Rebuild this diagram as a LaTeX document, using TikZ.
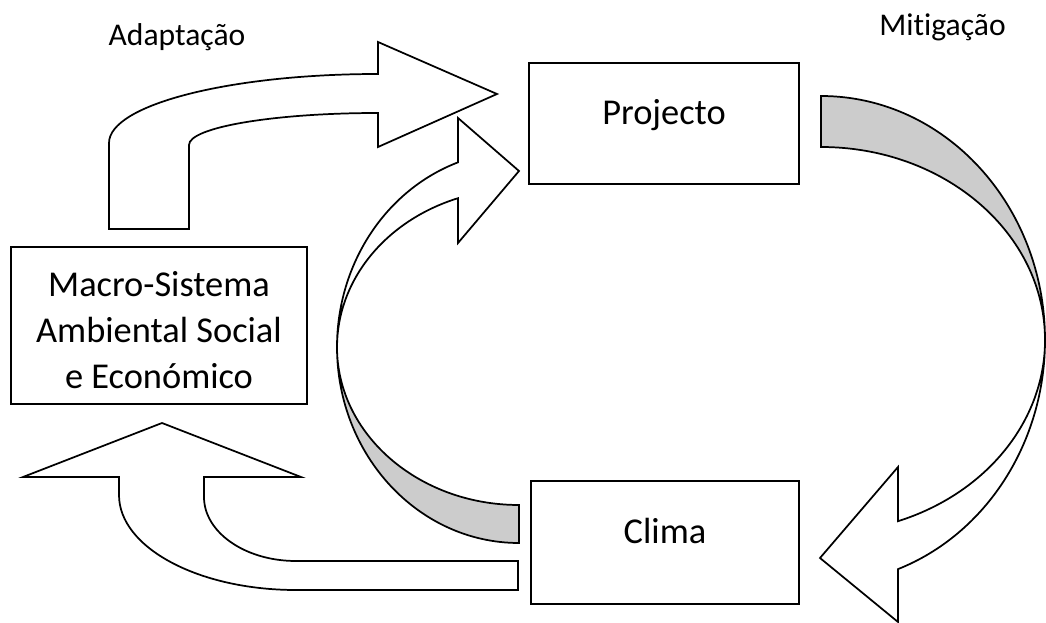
\documentclass[tikz,border=0pt]{standalone}
\usepackage{fontspec}
\setmainfont{Carlito}[Ligatures={NoCommon}]
\begin{document}
\begin{tikzpicture}[x=0.75pt,y=-0.75pt,line join=miter,
  shp/.style={draw=black,line width=1.3pt,fill=white},
  back/.style={draw=black,line width=1.3pt,fill=gray!40},
  box/.style={draw=black,line width=1.3pt,fill=white,rectangle,inner sep=0pt},
  big/.style={font=\fontsize{27.3}{34.4}\selectfont,inner sep=0pt},
  small/.style={font=\fontsize{23.7}{28.9}\selectfont,inner sep=0pt}]
\useasboundingbox (0,0) rectangle (1046,623);

% boxes
\node[box,minimum width=202.5pt,minimum height=90.75pt] (proj) at (664,123.5) {};
\node[box,minimum width=201pt,minimum height=92.25pt] (clima) at (665,542.5) {};
\node[box,minimum width=222pt,minimum height=117.75pt] (macro) at (159,325.5) {};

% texts
\node[big,anchor=base] (projt) at (664,125) {Projecto};
\node[big,anchor=base] (climat) at (665,543) {Clima};
\node[big,align=center] (macrot) at (159,330) {Macro-Sistema\\Ambiental Social\\e Económico};
\node[small,anchor=base] (adapt) at (177,46) {Adaptação};
\node[small,anchor=base] (mitig) at (942.5,36) {Mitigação};

% Adaptacao bent arrow (Macro -> Projecto)
\filldraw[shp] (109,229) -- (109,143)
  arc[start angle=180,end angle=270,x radius=269,y radius=69]
  -- (378,42) -- (497,94) -- (378,147) -- (378,113)
  arc[start angle=270,end angle=180,x radius=189,y radius=32]
  -- (189,229) -- cycle;

% left circular arrow (Clima -> Projecto)
\filldraw[back] (519,543)
  arc[start angle=90,end angle=180,x radius=182,y radius=196]
  arc[start angle=180,end angle=90,x radius=182,y radius=158] -- cycle;
\filldraw[shp] (337,347)
  arc[start angle=180,end angle=250.4,x radius=182,y radius=196]
  -- (458,118) -- (519,171) -- (458,243) -- (458,198.2)
  arc[start angle=250.4,end angle=180,x radius=182,y radius=158] -- cycle;

% right circular arrow (Projecto -> Clima)
\filldraw[back] (821,96)
  arc[start angle=270,end angle=360,x radius=224,y radius=244]
  arc[start angle=0,end angle=-90,x radius=224,y radius=193] -- cycle;
\filldraw[shp] (1045,340)
  arc[start angle=0,end angle=69.9,x radius=224,y radius=244]
  -- (898,622) -- (820,558) -- (898,467) -- (898,521.2)
  arc[start angle=69.9,end angle=0,x radius=224,y radius=193] -- cycle;

% bottom-left up arrow (Clima -> Macro)
\filldraw[shp] (518,590) -- (296,590)
  arc[start angle=90,end angle=180,x radius=177,y radius=95]
  -- (119,477) -- (23,477) -- (162,423) -- (301,477) -- (204,477) -- (204,497)
  arc[start angle=180,end angle=90,x radius=92,y radius=64]
  -- (518,561) -- cycle;
\end{tikzpicture}
\end{document}
